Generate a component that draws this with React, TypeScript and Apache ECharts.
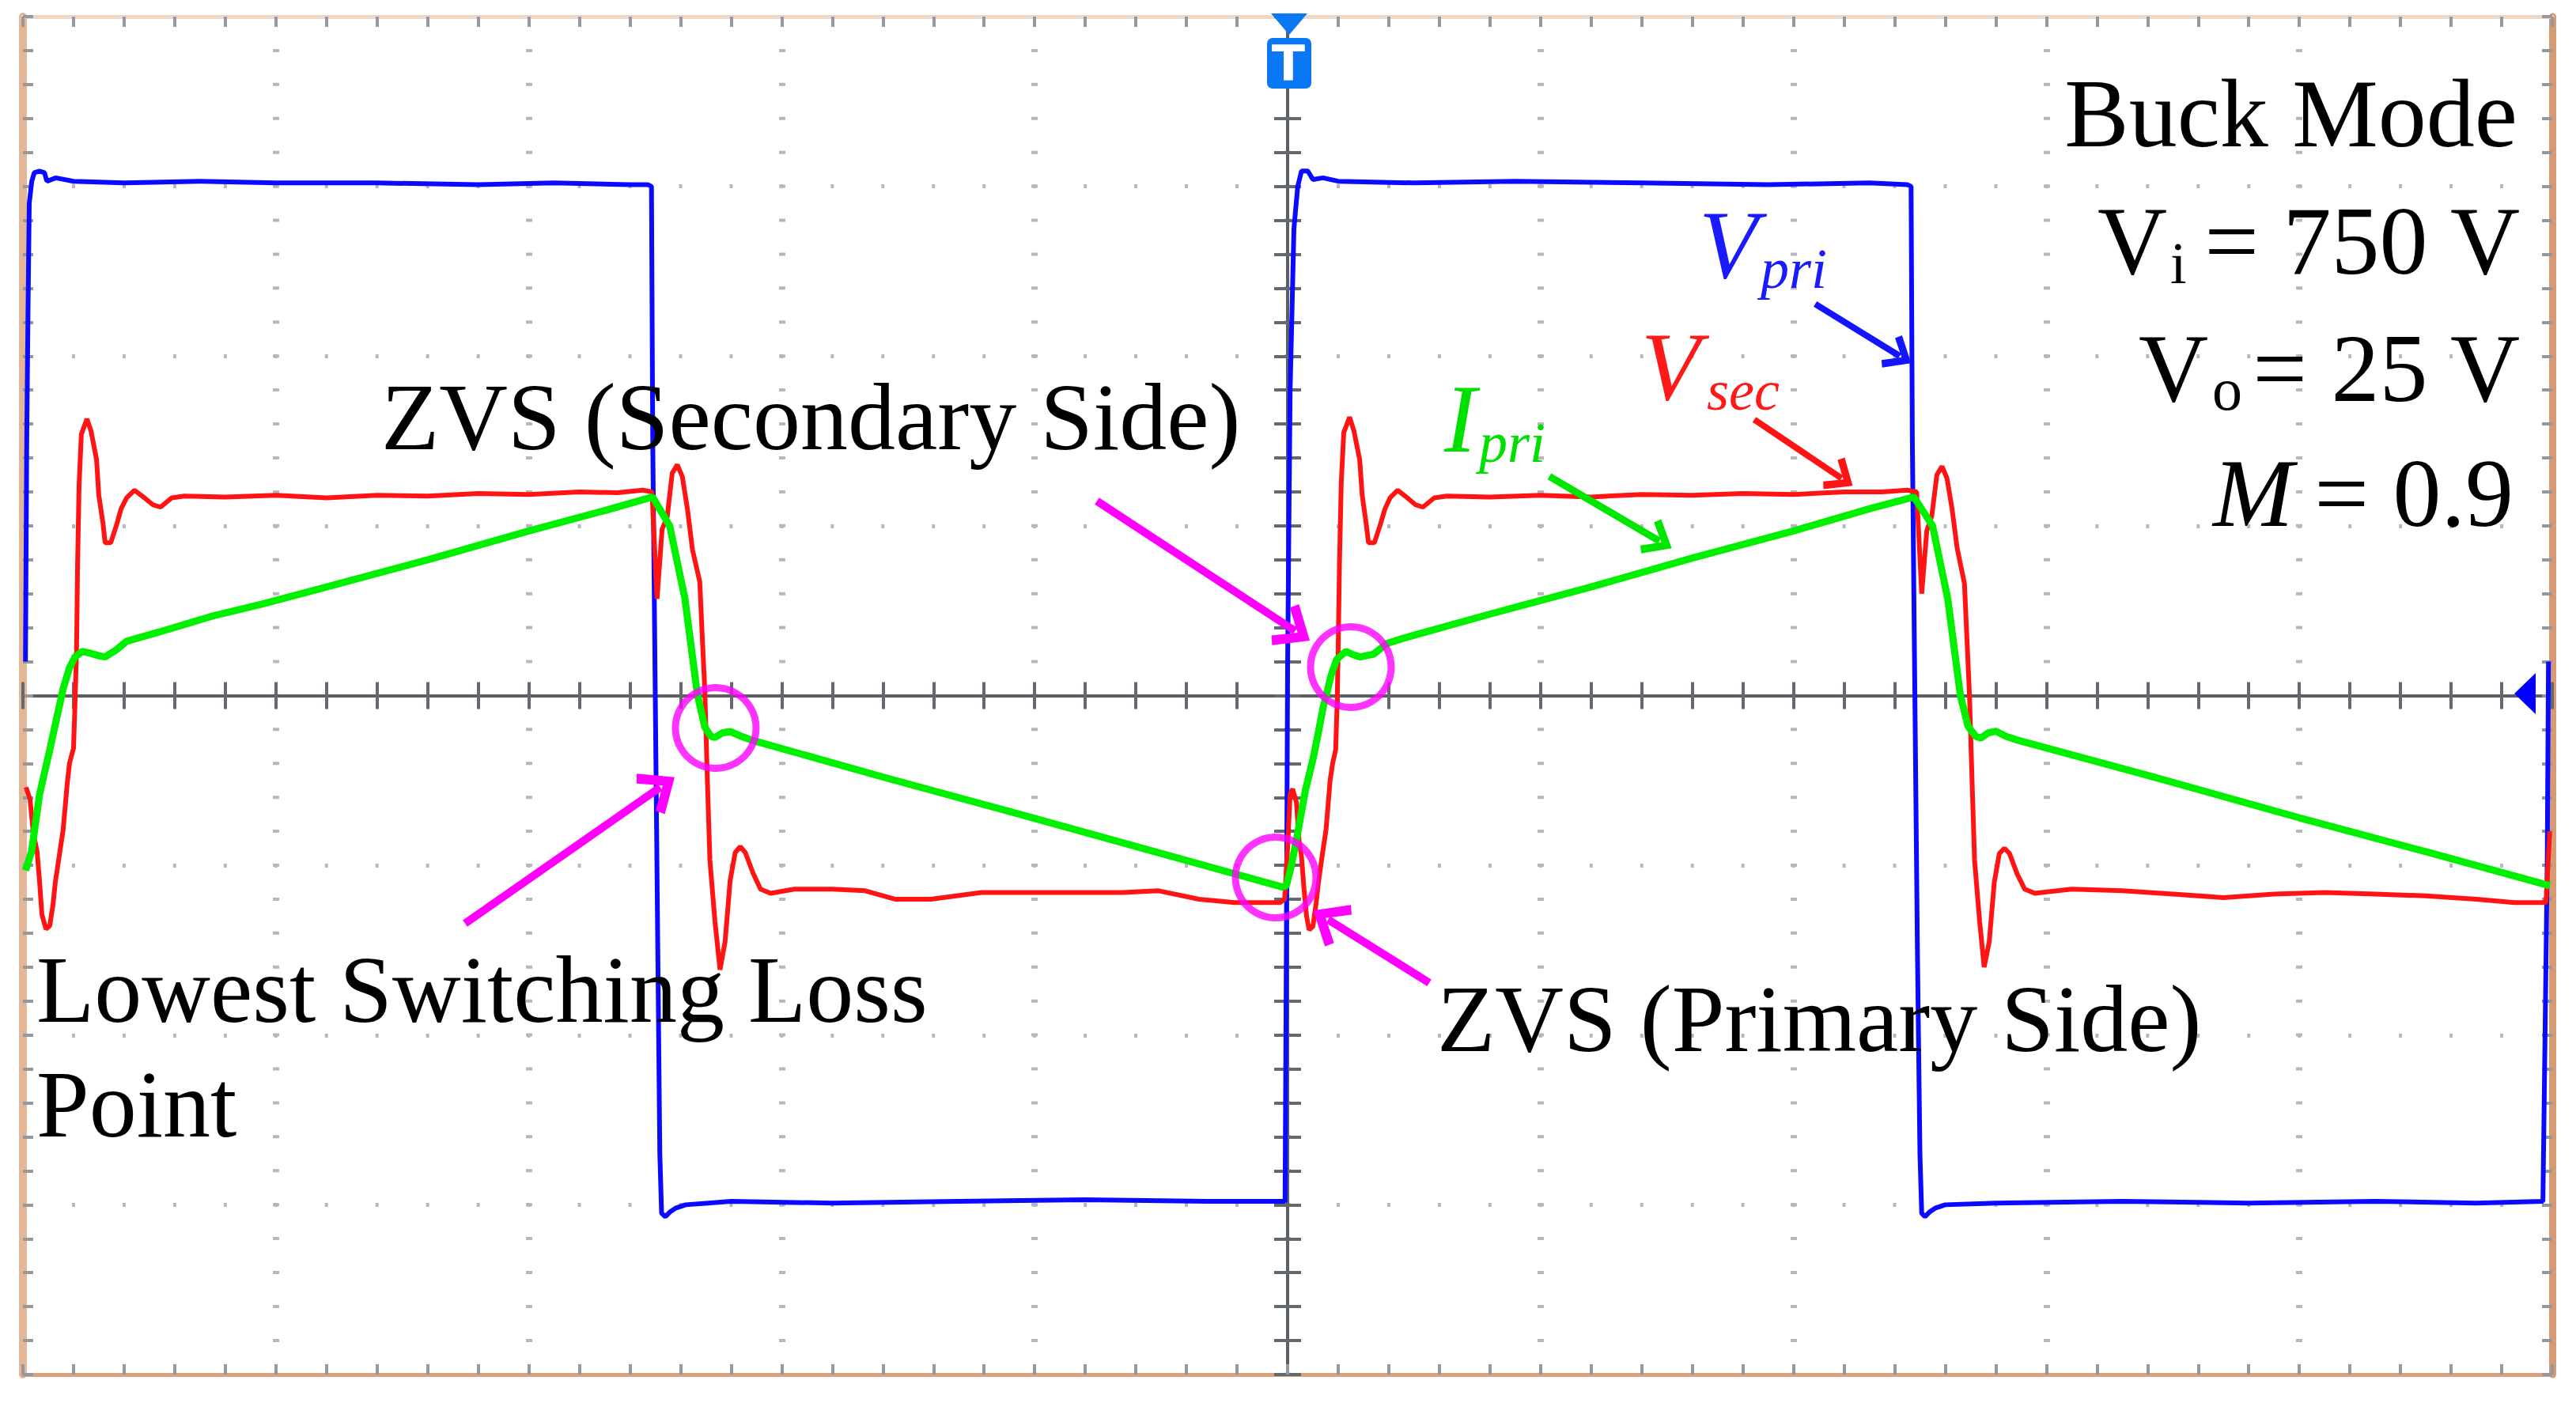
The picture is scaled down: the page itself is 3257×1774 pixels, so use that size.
import React, { useEffect, useRef } from "react";
import * as echarts from "echarts";

// ---------- waveform data (time in divisions, level in divisions) ----------
const vpriTime = [
  -4.99, -4.985, -4.98, -4.975, -4.965, -4.955, -4.935, -4.915, -4.905, -4.87, -4.8, -4.6, -4.3, -4.0, -3.6, -3.2, -2.9, -2.6, -2.53,
  -2.515, -2.51, -2.5, -2.49, -2.482, -2.475, -2.46, -2.44, -2.42, -2.38, -2.2, -1.8, -1.3, -0.8, -0.3, -0.01,
  -0.005, 0.0, 0.01, 0.025, 0.04, 0.055, 0.08, 0.1, 0.14, 0.2, 0.5, 0.9, 1.4, 1.9, 2.3, 2.45,
  2.465, 2.47, 2.48, 2.49, 2.5, 2.507, 2.52, 2.54, 2.56, 2.6, 2.8, 3.3, 3.8, 4.3, 4.7, 4.963,
  4.98, 4.985,
];
const vpriLevel = [
  0.2, 1.5, 2.25, 2.9, 3.03, 3.08, 3.09, 3.08, 3.03, 3.05, 3.03, 3.02, 3.03, 3.02, 3.02, 3.01, 3.02, 3.01, 3.01,
  3.0, 1.5, 0.0, -1.5, -2.7, -3.05, -3.07, -3.04, -3.02, -3.0, -2.98, -2.99, -2.98, -2.97, -2.98, -2.98,
  -1.5, 0.17, 1.8, 2.75, 3.0, 3.09, 3.09, 3.04, 3.05, 3.03, 3.02, 3.03, 3.02, 3.01, 3.02, 3.01,
  3.0, 1.5, 0.0, -1.5, -2.7, -3.05, -3.07, -3.04, -3.02, -3.0, -2.99, -2.98, -2.99, -2.98, -2.99, -2.98,
  -1.0, 0.2,
];

const vsecTime = [
  -4.988, -4.972, -4.959, -4.944, -4.934, -4.925, -4.909, -4.894, -4.881, -4.872, -4.856, -4.841, -4.825, -4.816, -4.8, -4.794, -4.788, -4.784,
  -4.778, -4.769, -4.747, -4.731, -4.709, -4.7, -4.684, -4.675, -4.653, -4.631, -4.612, -4.59, -4.559, -4.528, -4.487, -4.456, -4.412, -4.362,
  -4.2, -4.0, -3.8, -3.6, -3.4, -3.2, -3.0, -2.8, -2.65, -2.55, -2.513,
  -2.493, -2.473, -2.453, -2.433, -2.413, -2.393, -2.373, -2.353, -2.324, -2.314, -2.304, -2.294, -2.284, -2.264, -2.244, -2.224, -2.204,
  -2.184, -2.164, -2.144, -2.114, -2.084, -2.044,
  -1.95, -1.8, -1.67, -1.55, -1.41, -1.31, -1.21, -0.91, -0.65, -0.51, -0.35, -0.21, -0.03,
  -0.012, 0.0, 0.01, 0.02, 0.035, 0.045, 0.055, 0.065, 0.075, 0.085, 0.1, 0.113, 0.122, 0.137, 0.152, 0.168, 0.178, 0.19, 0.196,
  0.2, 0.205, 0.212, 0.222, 0.245, 0.262, 0.285, 0.295, 0.31, 0.32, 0.343, 0.365, 0.385, 0.405, 0.435, 0.465, 0.505, 0.535, 0.58, 0.63,
  0.8, 1.0, 1.2, 1.4, 1.6, 1.8, 2.0, 2.2, 2.35, 2.45, 2.487,
  2.507, 2.527, 2.547, 2.567, 2.587, 2.607, 2.627, 2.647, 2.676, 2.686, 2.696, 2.706, 2.716, 2.736, 2.754, 2.774, 2.794,
  2.814, 2.834, 2.854, 2.884, 2.914, 2.954,
  3.1, 3.3, 3.5, 3.7, 3.9, 4.1, 4.3, 4.5, 4.7, 4.85, 4.975, 4.99,
];
const vsecLevel = [
  -0.54, -0.61, -0.81, -0.92, -1.1, -1.29, -1.375, -1.356, -1.23, -1.1, -0.94, -0.79, -0.52, -0.4, -0.31, -0.04, 0.27, 0.77,
  1.24, 1.54, 1.63, 1.56, 1.39, 1.18, 1.02, 0.9, 0.9, 1.0, 1.1, 1.165, 1.21, 1.175, 1.125, 1.11, 1.165, 1.175,
  1.17, 1.18, 1.165, 1.18, 1.175, 1.19, 1.185, 1.2, 1.195, 1.21, 1.2,
  0.57, 0.98, 1.05, 1.31, 1.36, 1.29, 1.1, 0.86, 0.67, 0.34, 0.03, -0.5, -0.97, -1.33, -1.615, -1.45, -1.09,
  -0.925, -0.89, -0.925, -1.044, -1.14, -1.165,
  -1.14, -1.14, -1.15, -1.2, -1.2, -1.18, -1.16, -1.16, -1.16, -1.15, -1.2, -1.22, -1.22,
  -1.2, -0.9, -0.58, -0.55, -0.63, -0.85, -0.95, -1.14, -1.3, -1.38, -1.36, -1.22, -1.1, -0.94, -0.79, -0.5, -0.4, -0.32, -0.04,
  0.28, 0.77, 1.25, 1.55, 1.64, 1.56, 1.39, 1.18, 1.02, 0.9, 0.9, 1.0, 1.1, 1.165, 1.21, 1.175, 1.125, 1.11, 1.165, 1.175,
  1.17, 1.18, 1.17, 1.185, 1.18, 1.19, 1.185, 1.2, 1.2, 1.21, 1.2,
  0.6, 0.97, 1.06, 1.3, 1.35, 1.28, 1.1, 0.87, 0.66, 0.33, 0.0, -0.5, -0.97, -1.33, -1.6, -1.45, -1.1,
  -0.93, -0.9, -0.93, -1.05, -1.14, -1.165,
  -1.14, -1.15, -1.17, -1.19, -1.17, -1.16, -1.17, -1.18, -1.2, -1.22, -1.22, -0.8,
];

const ipriTime = [
  -4.99, -4.966, -4.934, -4.897, -4.872, -4.841, -4.816, -4.794, -4.765, -4.735, -4.7, -4.675, -4.63, -4.59, -4.465, -4.256, -4.049, -3.84,
  -3.4, -3.0, -2.7, -2.511,
  -2.443, -2.383, -2.333, -2.304, -2.28, -2.264, -2.235, -2.204, -2.16, -2.124, -1.6, -1.107, -0.5, -0.02,
  -0.005, 0.015, 0.035, 0.07, 0.1, 0.121, 0.141, 0.157, 0.172, 0.194, 0.23, 0.26, 0.288, 0.34, 0.392, 0.454,
  0.8, 1.2, 1.6, 2.0, 2.3, 2.476,
  2.55, 2.61, 2.66, 2.69, 2.72, 2.74, 2.77, 2.8, 2.84, 2.88, 3.4, 4.0, 4.5, 4.99,
];
const ipriLevel = [
  -1.03, -0.92, -0.58, -0.34, -0.17, 0.04, 0.163, 0.228, 0.26, 0.25, 0.235, 0.228, 0.27, 0.32, 0.373, 0.466, 0.541, 0.624,
  0.8, 0.97, 1.09, 1.17,
  1.0, 0.573, 0.002, -0.186, -0.24, -0.247, -0.22, -0.212, -0.24, -0.26, -0.48, -0.68, -0.93, -1.128,
  -1.12, -1.0, -0.85, -0.56, -0.377, -0.222, -0.066, 0.026, 0.12, 0.213, 0.26, 0.24, 0.228, 0.244, 0.306, 0.336,
  0.48, 0.64, 0.81, 0.97, 1.1, 1.17,
  1.0, 0.57, 0.0, -0.18, -0.24, -0.25, -0.22, -0.21, -0.24, -0.26, -0.47, -0.72, -0.92, -1.12,
];

// ---------- annotations (data coordinates) ----------
const zvsCircleTime = [0.25, -2.261, -0.047];
const zvsCircleLevel = [0.168, -0.191, -1.072];

const arrowFrom = [
  [2.086, 2.307],
  [1.845, 1.626],
  [1.035, 1.291],
  [-0.754, 1.146],
  [-3.252, -1.342],
  [0.56, -1.692],
];
const arrowTo = [
  [2.42, 2.0],
  [2.19, 1.28],
  [1.47, 0.91],
  [0.03, 0.38],
  [-2.48, -0.54],
  [0.16, -1.32],
];
const arrowKind = ["vpri", "vsec", "ipri", "zvs", "zvs", "zvs"];

const textBlock = ["Buck Mode", "= 750 V", "= 25 V", "= 0.9"];

// ---------- styling ----------
const SERIF = '"Liberation Serif", "Times New Roman", serif';
const CHEVRON = "path://M50,0 L100,60 L84,72 L50,30 L16,72 L0,60 Z";
const arrowStyle: Record<string, { color: string; width: number; head: number[] }> = {
  vpri: { color: "#1414ff", width: 8, head: [48, 34] },
  vsec: { color: "#ff1414", width: 8, head: [48, 34] },
  ipri: { color: "#00e600", width: 9, head: [50, 36] },
  zvs: { color: "#ff00ff", width: 10, head: [62, 44] },
};

const zip = (t: number[], v: number[]) => t.map((x, i) => [x, v[i]]);

function txt(
  text: string,
  x: number,
  baseline: number,
  size: number,
  color = "#000",
  align = "left",
  italic = false
) {
  return {
    type: "text",
    x,
    y: baseline - 0.3375 * size,
    z: 100,
    silent: true,
    style: {
      text,
      fill: color,
      fontSize: size,
      fontFamily: SERIF,
      fontStyle: italic ? "italic" : "normal",
      textAlign: align,
      textVerticalAlign: "middle",
      align,
      verticalAlign: "middle",
    },
  };
}

const centerTick = { color: "#646970", width: 4 };

function centerX(position: string) {
  return {
    type: "value",
    min: -5,
    max: 5,
    interval: 1,
    position,
    axisLine: { onZero: true, onZeroAxisIndex: 0, lineStyle: { color: "#5a5f66", width: 4 } },
    axisTick: { show: true, inside: false, length: 17, lineStyle: centerTick },
    minorTick: { show: true, splitNumber: 5, length: 17, lineStyle: centerTick },
    axisLabel: { show: false },
    splitLine:
      position === "bottom"
        ? { show: true, lineStyle: { color: "#b4b7bb", width: 8, type: [4, 38.92], dashOffset: 2 } }
        : { show: false },
  };
}
function centerY(position: string) {
  return {
    type: "value",
    min: -4,
    max: 4,
    interval: 1,
    position,
    axisLine: { onZero: true, onZeroAxisIndex: 0, lineStyle: { color: "#5a5f66", width: 4 } },
    axisTick: { show: true, inside: false, length: 17, lineStyle: centerTick },
    minorTick: { show: true, splitNumber: 5, length: 17, lineStyle: centerTick },
    axisLabel: { show: false },
    splitLine:
      position === "left"
        ? { show: true, lineStyle: { color: "#b4b7bb", width: 5, type: [4, 59.96], dashOffset: 2 } }
        : { show: false },
  };
}
const borderTick = { color: "#95989c", width: 4 };
function borderAxis(kind: "x" | "y", position: string, color: string, width: number) {
  return {
    type: "value",
    min: kind === "x" ? -5 : -4,
    max: kind === "x" ? 5 : 4,
    interval: 1,
    position,
    axisLine: { onZero: false, lineStyle: { color, width } },
    axisTick: { show: true, inside: true, length: 13, lineStyle: borderTick },
    minorTick: { show: true, splitNumber: 5, length: 13, lineStyle: borderTick },
    axisLabel: { show: false },
    splitLine: { show: false },
  };
}

function buildOption() {
  const arrows = arrowFrom.map((from, i) => {
    const st = arrowStyle[arrowKind[i]];
    return [
      { coord: from, symbol: "none", lineStyle: { color: st.color, width: st.width, type: "solid" } },
      { coord: arrowTo[i], symbol: CHEVRON, symbolSize: st.head },
    ];
  });

  const graphics: any[] = [
    // trigger marker (top)
    {
      type: "polygon",
      z: 100,
      silent: true,
      shape: { points: [[1607, 17], [1653, 17], [1630, 44]] },
      style: { fill: "#0a78f5" },
    },
    {
      type: "rect",
      z: 100,
      silent: true,
      shape: { x: 1602, y: 48, width: 56, height: 64, r: 7 },
      style: { fill: "#0a78f5" },
    },
    {
      type: "text",
      x: 1629,
      y: 80,
      z: 101,
      silent: true,
      style: {
        text: "T",
        fill: "#ffffff",
        fontSize: 62,
        fontWeight: "bold",
        fontFamily: "DejaVu Sans",
        textAlign: "center",
        textVerticalAlign: "middle",
        align: "center",
        verticalAlign: "middle",
      },
    },
    // level marker (right)
    {
      type: "polygon",
      z: 100,
      silent: true,
      shape: { points: [[3206, 851], [3206, 903], [3179, 877]] },
      style: { fill: "#0000ff" },
    },
    // parameter block
    txt(textBlock[0], 3183, 185, 122, "#000", "right"),
    txt("V", 2652, 346, 122),
    txt("i", 2744, 358, 74),
    txt(textBlock[1], 3186, 346, 122, "#000", "right"),
    txt("V", 2704, 507, 122),
    txt("o", 2797, 518, 76),
    txt(textBlock[2], 3186, 507, 122, "#000", "right"),
    txt("M", 2798, 665, 122, "#000", "left", true),
    txt(textBlock[3], 3178, 665, 122, "#000", "right"),
    // annotations
    txt("ZVS (Secondary Side)", 482, 568, 120),
    txt("Lowest Switching Loss", 46, 1292, 120),
    txt("Point", 46, 1437, 120),
    txt("ZVS (Primary Side)", 1817, 1329, 120),
    // trace labels
    txt("V", 2148, 351, 122, "#1a1aff", "left", true),
    txt("pri", 2226, 364, 72, "#1a1aff", "left", true),
    txt("V", 2075, 505, 122, "#ff1a1a", "left", true),
    txt("sec", 2158, 518, 72, "#ff1a1a", "left", true),
    txt("I", 1826, 571, 122, "#00e000", "left", true),
    txt("pri", 1870, 584, 72, "#00e000", "left", true),
  ];

  return {
    animation: false,
    backgroundColor: "#ffffff",
    grid: {
      left: 29,
      top: 21,
      right: 30,
      bottom: 36,
      containLabel: false,
      outerBoundsMode: "none",
    },
    xAxis: [
      centerX("bottom"),
      centerX("top"),
      borderAxis("x", "top", "#eed9c8", 5),
      borderAxis("x", "bottom", "#d9a07a", 5),
    ],
    yAxis: [
      centerY("left"),
      centerY("right"),
      borderAxis("y", "left", "#e3b697", 10),
      borderAxis("y", "right", "#d79b73", 9),
    ],
    series: [
      {
        type: "line",
        name: "Vpri",
        data: zip(vpriTime, vpriLevel),
        showSymbol: false,
        symbol: "none",
        silent: true,
        lineStyle: { color: "#0a0aff", width: 6 },
        z: 3,
      },
      {
        type: "line",
        name: "Vsec",
        data: zip(vsecTime, vsecLevel),
        showSymbol: false,
        symbol: "none",
        silent: true,
        lineStyle: { color: "#ff1414", width: 6 },
        z: 4,
      },
      {
        type: "line",
        name: "Ipri",
        data: zip(ipriTime, ipriLevel),
        showSymbol: false,
        symbol: "none",
        silent: true,
        lineStyle: { color: "#00f000", width: 9 },
        z: 5,
      },
      {
        type: "scatter",
        name: "ZVS",
        data: zip(zvsCircleTime, zvsCircleLevel),
        symbol: "circle",
        symbolSize: 102,
        silent: true,
        itemStyle: { color: "rgba(0,0,0,0)", borderColor: "#ff00ff", borderWidth: 9 },
        z: 6,
        markLine: {
          silent: true,
          animation: false,
          symbol: ["none", CHEVRON],
          label: { show: false },
          emphasis: { disabled: true },
          data: arrows,
        },
      },
    ],
    graphic: { elements: graphics },
  };
}

export default function App() {
  const ref = useRef<HTMLDivElement>(null);
  useEffect(() => {
    const chart = echarts.init(ref.current as HTMLDivElement, null, { renderer: "svg" });
    chart.setOption(buildOption() as any);
    return () => chart.dispose();
  }, []);
  return (
    <div
      ref={ref}
      style={{ position: "fixed", left: 0, top: 0, width: 3257, height: 1774, background: "#fff" }}
    />
  );
}
